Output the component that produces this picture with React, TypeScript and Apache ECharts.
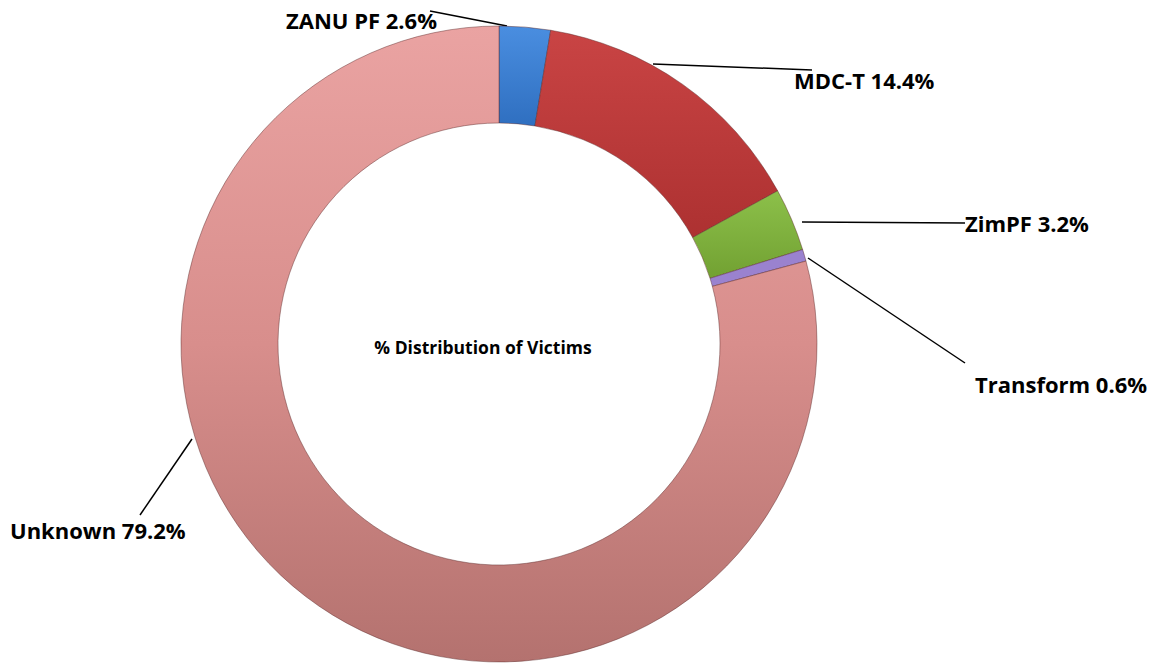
import React, { useEffect, useRef } from "react";
import * as echarts from "echarts";

const categories = ["ZANU PF", "MDC-T", "ZimPF", "Transform", "Unknown"];
const values = [2.6, 14.4, 3.2, 0.6, 79.2];
const centerTitle = "% Distribution of Victims";

const sliceColors: any[] = [
  new echarts.graphic.LinearGradient(0, 0, 0, 1, [
    { offset: 0, color: "#4a8ee0" },
    { offset: 1, color: "#2f6fc0" },
  ]),
  new echarts.graphic.LinearGradient(0, 0, 0, 1, [
    { offset: 0, color: "#c94444" },
    { offset: 1, color: "#ad3131" },
  ]),
  new echarts.graphic.LinearGradient(0, 0, 0, 1, [
    { offset: 0, color: "#8cc04a" },
    { offset: 1, color: "#72a132" },
  ]),
  "#9a82cf",
  new echarts.graphic.LinearGradient(0, 0, 0, 1, [
    { offset: 0, color: "#eaa3a2" },
    { offset: 0.5, color: "#d88e8c" },
    { offset: 1, color: "#b4726f" },
  ]),
];

// label anchor positions [textX, textY, align, lineStartX, lineStartY, lineEndX, lineEndY]
const labelPlacement: any[] = [
  [437, 20, "right", 507, 26, 430, 11],
  [794, 80, "left", 653, 64, 812, 70],
  [965, 223, "left", 802, 222, 965, 223],
  [975, 384, "left", 808, 258, 965, 363],
  [10, 530, "left", 192, 439, 140, 515],
];

export default function App() {
  const ref = useRef<HTMLDivElement>(null);
  useEffect(() => {
    document.body.style.margin = "0";
    const chart = echarts.init(ref.current!, null, { renderer: "svg" });
    chart.setOption({
      animation: false,
      backgroundColor: "#ffffff",
      title: {
        text: centerTitle,
        left: 478,
        top: 342,
        textAlign: "center",
        textVerticalAlign: "middle",
        textStyle: {
          fontFamily: "Open Sans",
          fontWeight: "bold",
          fontSize: 17.5,
          color: "#000",
        },
      },
      series: [
        {
          type: "pie",
          center: [499, 344],
          radius: [221, 318],
          startAngle: 90,
          clockwise: true,
          avoidLabelOverlap: false,
          itemStyle: {
            borderColor: "rgba(90,40,40,0.45)",
            borderWidth: 1,
          },
          label: {
            show: true,
            position: "outside",
            formatter: "{b} {c}%",
            fontFamily: "Open Sans",
            fontWeight: "bold",
            fontSize: 22,
            color: "#000",
          },
          labelLine: {
            show: true,
            lineStyle: { color: "#000", width: 1.5 },
          },
          labelLayout: (params: any) => {
            const p = labelPlacement[params.dataIndex];
            return {
              x: p[0],
              y: p[1],
              align: p[2],
              verticalAlign: "middle",
              labelLinePoints: [
                [p[3], p[4]],
                [p[5], p[6]],
                [p[5], p[6]],
              ],
            };
          },
          data: categories.map((name, i) => ({
            name,
            value: values[i],
            itemStyle: { color: sliceColors[i] },
          })),
        },
      ],
    });
    return () => chart.dispose();
  }, []);
  return <div ref={ref} style={{ width: 1157, height: 664 }} />;
}
